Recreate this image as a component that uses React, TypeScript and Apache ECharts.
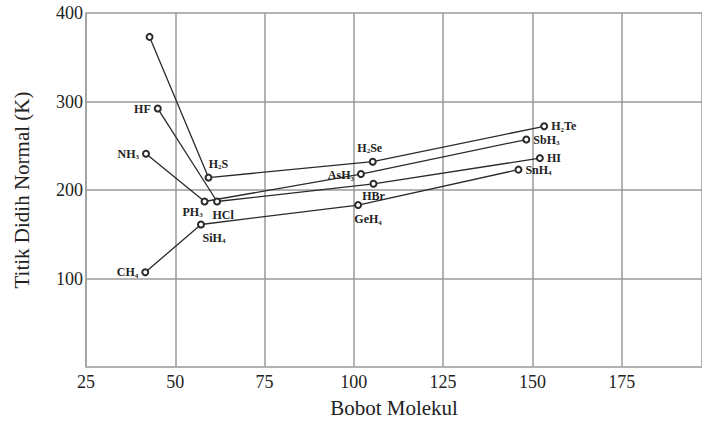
import React, { useEffect, useRef } from "react";
import * as echarts from "echarts";

const xTickLabels = ["25", "50", "75", "100", "125", "150", "175"];
const yTickLabels = ["100", "200", "300", "400"];

const group16Names = ["H2O", "H2S", "H2Se", "H2Te"];
const group16Mass = [42.8, 59.3, 105.3, 153.3];
const group16Bp = [373, 214, 232, 272];

const group17Names = ["HF", "HCl", "HBr", "HI"];
const group17Mass = [45.1, 61.7, 105.5, 152.1];
const group17Bp = [292, 187, 207, 236];

const group15Names = ["NH3", "PH3", "AsH3", "SbH3"];
const group15Mass = [41.8, 58.2, 102.0, 148.3];
const group15Bp = [241, 187, 218, 257];

const group14Names = ["CH4", "SiH4", "GeH4", "SnH4"];
const group14Mass = [41.6, 57.2, 101.2, 146.1];
const group14Bp = [107, 161, 183, 223];

// label placement (styling, kept apart from data)
const labelPlacement: Record<string, { position: string; offset: number[] }> = {
  HF: { position: "left", offset: [0, 0] },
  NH3: { position: "left", offset: [0, 0] },
  CH4: { position: "left", offset: [0, 0] },
  H2S: { position: "top", offset: [10, 0] },
  PH3: { position: "bottom", offset: [-12, -4] },
  HCl: { position: "bottom", offset: [6, -1] },
  SiH4: { position: "bottom", offset: [13, -1] },
  H2Se: { position: "top", offset: [-3, 0] },
  AsH3: { position: "left", offset: [0, 1] },
  HBr: { position: "bottom", offset: [0, -2] },
  GeH4: { position: "bottom", offset: [10, 0] },
  H2Te: { position: "right", offset: [0, 0] },
  SbH3: { position: "right", offset: [0, 0] },
  HI: { position: "right", offset: [0, 0] },
  SnH4: { position: "right", offset: [0, 0] },
};

const SERIF = "'Liberation Serif', 'Times New Roman', serif";

function formula(name: string): string {
  const tokens = name.match(/\d+|\D+/g) || [];
  return tokens.map((t) => (/\d/.test(t) ? `{s|${t}}` : `{b|${t}}`)).join("");
}

function buildSeries(names: string[], mass: number[], bp: number[]) {
  return {
    type: "line",
    symbol: "emptyCircle",
    symbolSize: 6,
    itemStyle: { color: "#2a2a2a", borderWidth: 1.2 },
    lineStyle: { color: "#2a2a2a", width: 1.3 },
    data: names.map((n, i) => {
      const lp = labelPlacement[n];
      return {
        name: n,
        value: [mass[i], bp[i]],
        label: lp
          ? { show: true, position: lp.position, offset: lp.offset, distance: 3 }
          : { show: false },
      };
    }),
    label: {
      show: true,
      formatter: (p: any) => formula(p.name),
      rich: {
        b: {
          fontFamily: SERIF,
          fontWeight: "bold",
          fontSize: 12,
          color: "#222",
          lineHeight: 14,
          verticalAlign: "middle",
        },
        s: {
          fontFamily: SERIF,
          fontWeight: "bold",
          fontSize: 7,
          color: "#222",
          verticalAlign: "bottom",
        },
      },
    },
  };
}

export default function App() {
  const ref = useRef<HTMLDivElement>(null);
  useEffect(() => {
    document.body.style.margin = "0";
    if (!ref.current) return;
    const chart = echarts.init(ref.current, undefined, { renderer: "svg" });
    chart.setOption({
      animation: false,
      backgroundColor: "#ffffff",
      grid: { left: 86, right: 0, top: 13, bottom: 58, containLabel: false },
      xAxis: {
        type: "value",
        min: 25,
        max: 197.5,
        interval: 25,
        name: "Bobot Molekul",
        nameLocation: "middle",
        nameGap: 30,
        nameTextStyle: { fontFamily: SERIF, fontSize: 21, color: "#222" },
        axisLine: { show: true, lineStyle: { color: "#b0b0b0", width: 1.5 } },
        axisTick: { show: false },
        axisLabel: {
          fontFamily: SERIF,
          fontSize: 18,
          color: "#222",
          margin: 6,
          showMaxLabel: false,
          formatter: (v: number) => (xTickLabels.includes(String(v)) ? String(v) : ""),
        },
        splitLine: { show: true, lineStyle: { color: "#9a9a9a", width: 1.5 } },
      },
      yAxis: {
        type: "value",
        min: 0,
        max: 400,
        interval: 100,
        name: "Titik Didih Normal (K)",
        nameLocation: "middle",
        nameGap: 54,
        nameTextStyle: { fontFamily: SERIF, fontSize: 21, color: "#222" },
        axisLine: { show: true, lineStyle: { color: "#a0a0a0", width: 1.5 } },
        axisTick: { show: false },
        axisLabel: {
          fontFamily: SERIF,
          fontSize: 18,
          color: "#222",
          margin: 3,
          showMinLabel: false,
          formatter: (v: number) => (yTickLabels.includes(String(v)) ? String(v) : ""),
        },
        splitLine: { show: true, lineStyle: { color: "#9a9a9a", width: 1.5 } },
      },
      series: [
        buildSeries(group16Names, group16Mass, group16Bp),
        buildSeries(group17Names, group17Mass, group17Bp),
        buildSeries(group15Names, group15Mass, group15Bp),
        buildSeries(group14Names, group14Mass, group14Bp),
      ],
    });
    return () => chart.dispose();
  }, []);
  return <div ref={ref} style={{ width: 702, height: 425 }} />;
}
